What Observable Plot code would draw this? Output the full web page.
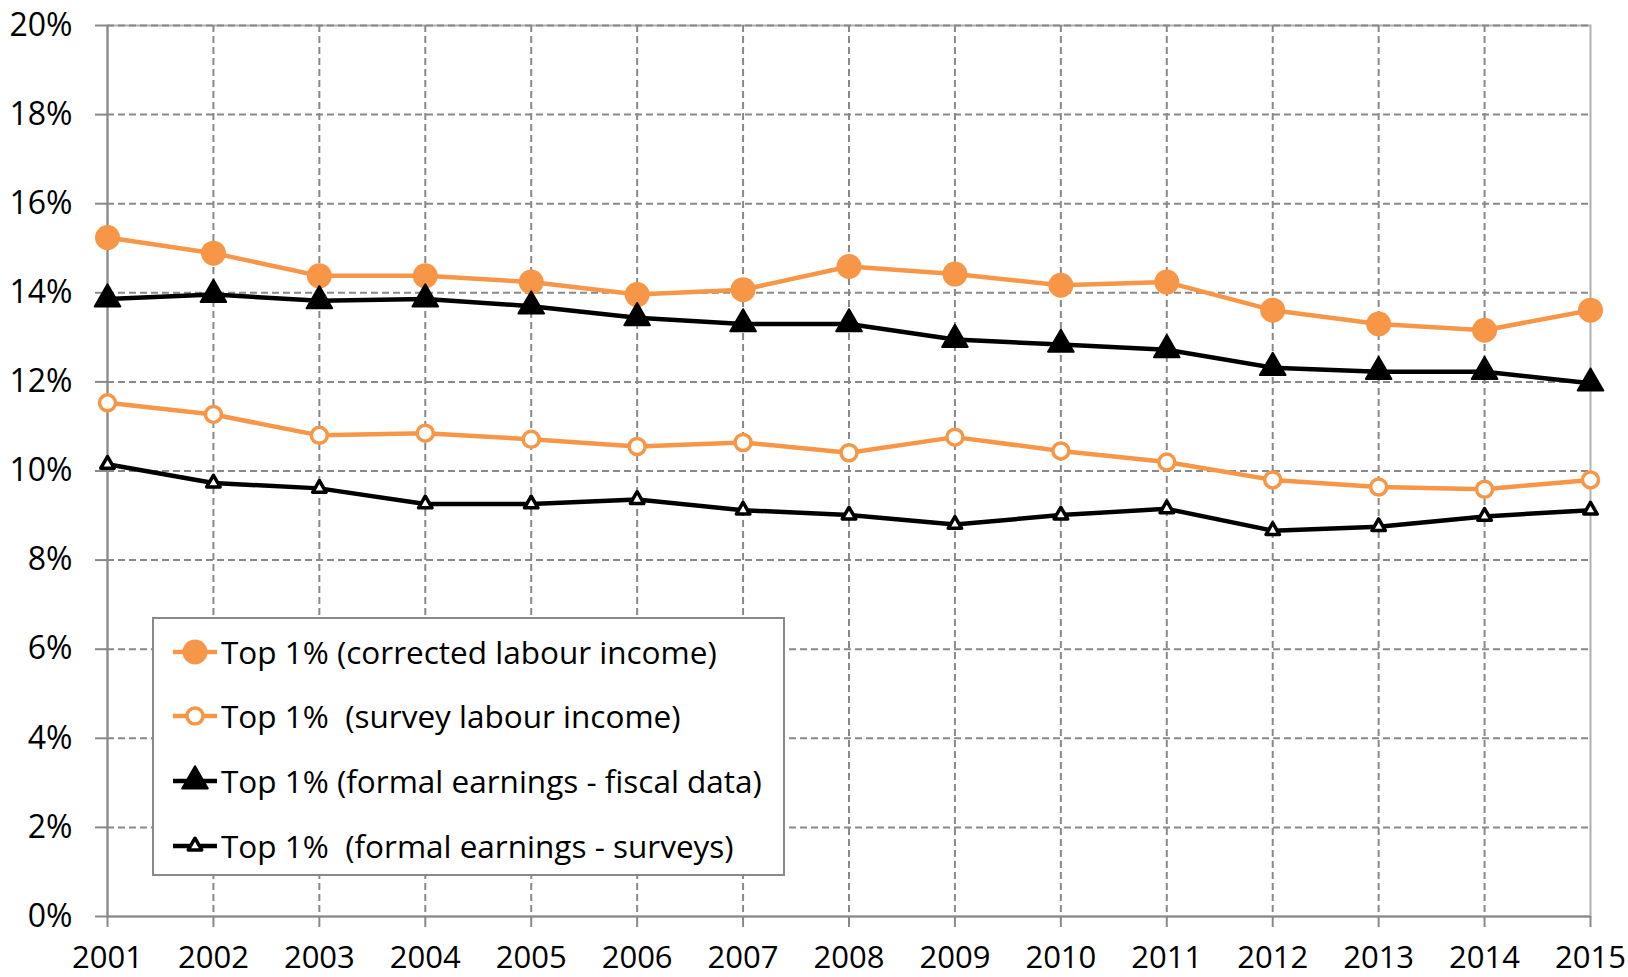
<!DOCTYPE html>
<html><head><meta charset="utf-8">
<script src="https://cdn.jsdelivr.net/npm/d3@7"></script>
<script src="https://cdn.jsdelivr.net/npm/@observablehq/plot@0.6"></script>
<style>
body{margin:0;background:#fff;}
#wrap{position:relative;width:1628px;height:977px;font-family:"Open Sans",Lato,sans-serif;}
#legend{position:absolute;left:152px;top:617px;width:633px;height:259px;box-sizing:border-box;border:2px solid #898989;background:#fff;}
.row{position:absolute;left:0;height:40px;display:flex;align-items:center;}
.row svg{margin-left:19px;flex:none;}
.row span{margin-left:4px;font-size:31.5px;white-space:pre;color:#000;line-height:40px;}
</style></head><body><div id="wrap"></div>
<script>
const years = [2001,2002,2003,2004,2005,2006,2007,2008,2009,2010,2011,2012,2013,2014,2015];
const correctedLabour = [15.24,14.89,14.38,14.38,14.24,13.96,14.07,14.59,14.42,14.17,14.24,13.61,13.30,13.16,13.61];
const surveyLabour   = [11.53,11.27,10.80,10.85,10.71,10.55,10.64,10.41,10.76,10.45,10.20,9.80,9.64,9.59,9.80];
const fiscalEarnings = [13.86,13.96,13.82,13.86,13.70,13.44,13.30,13.30,12.95,12.84,12.72,12.32,12.23,12.23,11.97];
const surveyEarnings = [10.15,9.73,9.61,9.26,9.26,9.36,9.12,9.01,8.80,9.01,9.15,8.66,8.75,8.98,9.12];
const yTicks = [0,0.02,0.04,0.06,0.08,0.10,0.12,0.14,0.16,0.18,0.20];
const seriesNames = [
  "Top 1% (corrected labour income)",
  "Top 1%  (survey labour income)",
  "Top 1% (formal earnings - fiscal data)",
  "Top 1%  (formal earnings - surveys)"
];

const ORANGE = "#F79646";
const styles = [
  {color: ORANGE, symbol: "circle", r: 12.5, fill: ORANGE, sw: 0},
  {color: ORANGE, symbol: "circle", r: 8, fill: "white", sw: 3.5},
  {color: "black", symbol: "triangle", r: 9.5, fill: "black", sw: 2},
  {color: "black", symbol: "triangle", r: 5, fill: "white", sw: 3.5}
];
const allValues = [correctedLabour, surveyLabour, fiscalEarnings, surveyEarnings];
const rows = allValues.map((vals, s) => years.map((yr, i) => ({year: yr, value: vals[i] / 100, series: s})));

const gridStyle = {stroke: "#898989", strokeOpacity: 1, strokeWidth: 2, strokeDasharray: "7,4"};
const marks = [
  Plot.frame({stroke: "#b0b0b0", strokeWidth: 2}),
  Plot.gridY(yTicks.slice(1), gridStyle),
  Plot.gridX(years.slice(1, -1), gridStyle),
  Plot.ruleY([0], {stroke: "#898989", strokeWidth: 2}),
  Plot.ruleX([years[0]], {stroke: "#898989", strokeWidth: 2}),
  Plot.axisY({ticks: yTicks, tickFormat: d3.format(".0%"), tickSize: 12, tickPadding: 23, label: null, color: "black", stroke: "#898989", strokeWidth: 2, fontSize: 32}),
  Plot.axisX({ticks: years, tickFormat: d => String(d), tickSize: 11, tickPadding: 18, label: null, color: "black", stroke: "#898989", strokeWidth: 2, fontSize: 31})
];
rows.forEach((data, s) => {
  const st = styles[s];
  marks.push(Plot.line(data, {x: "year", y: "value", stroke: st.color, strokeWidth: 4.5, strokeLinejoin: "round"}));
});
rows.forEach((data, s) => {
  const st = styles[s];
  marks.push(Plot.dot(data, {x: "year", y: "value", symbol: st.symbol, r: st.r, fill: st.fill, stroke: st.color, strokeWidth: st.sw, strokeLinejoin: "round"}));
});

const chart = Plot.plot({
  width: 1628, height: 977,
  marginLeft: 107, marginRight: 38, marginTop: 25, marginBottom: 61,
  style: {fontFamily: "'Open Sans', Lato, sans-serif", fontSize: "32px", background: "white", color: "black"},
  x: {domain: [years[0], years[years.length - 1]], ticks: years},
  y: {domain: [0, 0.2], ticks: yTicks},
  marks
});
const wrap = document.getElementById("wrap");
wrap.appendChild(chart);

// legend
const legend = document.createElement("div");
legend.id = "legend";
const rowTops = [33, 97, 162, 227];
seriesNames.forEach((name, s) => {
  const st = styles[s];
  const row = document.createElement("div");
  row.className = "row";
  row.style.top = (rowTops[s] - 20) + "px";
  const svg = d3.create("svg").attr("width", 44).attr("height", 40);
  svg.append("line").attr("x1", 0).attr("x2", 44).attr("y1", 20).attr("y2", 20).attr("stroke", st.color).attr("stroke-width", 4.5);
  const sym = st.symbol === "circle" ? d3.symbolCircle : d3.symbolTriangle;
  svg.append("path").attr("transform", "translate(22,20)")
    .attr("d", d3.symbol(sym, Math.PI * st.r * st.r)())
    .attr("fill", st.fill).attr("stroke", st.color).attr("stroke-width", st.sw).attr("stroke-linejoin", "round");
  row.appendChild(svg.node());
  const span = document.createElement("span");
  span.textContent = name;
  row.appendChild(span);
  legend.appendChild(row);
});
wrap.appendChild(legend);
</script>
</body></html>
